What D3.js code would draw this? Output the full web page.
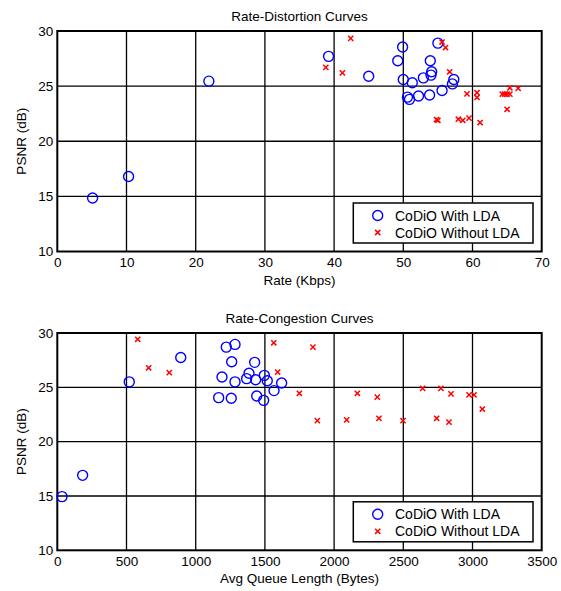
<!DOCTYPE html>
<html><head><meta charset="utf-8">
<script src="https://cdn.jsdelivr.net/npm/d3@7"></script>
<style>
html,body{margin:0;padding:0;background:#fff;}
text{font-family:"Liberation Sans",Arial,Helvetica,sans-serif;}
</style></head>
<body><svg id="c" width="561" height="591"></svg>
<script>
// ---- Data ----
const rdTitle = "Rate-Distortion Curves";
const rcTitle = "Rate-Congestion Curves";
const seriesNames = ["CoDiO With LDA", "CoDiO Without LDA"];

const rdXTicks = [0, 10, 20, 30, 40, 50, 60, 70];
const rcXTicks = [0, 500, 1000, 1500, 2000, 2500, 3000, 3500];
const yTicks = [10, 15, 20, 25, 30];

// Rate-Distortion: rate (Kbps) vs PSNR (dB)
const rdWithRate = [5.1, 10.3, 21.9, 39.2, 45.0, 49.9, 49.2, 50.0, 51.3, 50.6, 50.9, 52.2, 52.9, 53.8, 53.9, 54.1, 54.0, 55.0, 55.6, 57.3, 57.1];
const rdWithPsnr = [14.85, 16.8, 25.45, 27.7, 25.9, 28.55, 27.3, 25.6, 25.3, 24.0, 23.8, 24.1, 25.75, 24.2, 27.3, 26.3, 26.0, 28.9, 24.6, 25.6, 25.2];
const rdWithoutRate = [38.8, 41.2, 42.4, 54.8, 55.0, 55.6, 56.1, 56.7, 57.95, 58.6, 59.2, 59.5, 60.65, 60.65, 61.1, 64.3, 64.65, 65.0, 65.0, 65.4, 65.4, 66.6];
const rdWithoutPsnr = [26.7, 26.2, 29.33, 21.97, 21.9, 29.0, 28.5, 26.3, 22.0, 21.9, 24.3, 22.1, 24.4, 23.97, 21.7, 24.27, 24.27, 24.27, 22.9, 24.27, 24.85, 24.8];

// Rate-Congestion: avg queue length (Bytes) vs PSNR (dB)
const rcWithQueue = [34, 183, 520, 892, 1166, 1190, 1221, 1260, 1284, 1284, 1257, 1368, 1385, 1426, 1433, 1441, 1491, 1496, 1517, 1566, 1621];
const rcWithPsnr = [14.94, 16.9, 25.5, 27.75, 24.05, 25.95, 28.7, 27.35, 28.95, 25.5, 24.0, 25.8, 26.3, 27.3, 25.7, 24.2, 23.8, 26.1, 25.6, 24.7, 25.4];
const rcWithoutQueue = [581, 660, 809, 1564, 1592, 1749, 1847, 1879, 2091, 2168, 2312, 2324, 2498, 2640, 2741, 2772, 2830, 2845, 2975, 3011, 3071];
const rcWithoutPsnr = [29.42, 26.8, 26.35, 29.1, 26.4, 24.45, 28.7, 21.93, 22.0, 24.45, 24.1, 22.15, 21.93, 24.9, 22.15, 24.9, 21.8, 24.4, 24.3, 24.3, 23.0];

// ---- Drawing ----
const svg = d3.select("#c");
const FS = 13.5;

function panel(cfg) {
  const x = d3.scaleLinear().domain([cfg.xTicks[0], cfg.xTicks[cfg.xTicks.length-1]]).range([57.3, 541.7]);
  const y = d3.scaleLinear().domain([10, 30]).range([cfg.bottom, cfg.top]);
  const g = svg.append("g");

  // grid
  g.selectAll(".vg").data(cfg.xTicks.slice(1, -1)).enter().append("line")
    .attr("x1", d => x(d)).attr("x2", d => x(d)).attr("y1", cfg.top).attr("y2", cfg.bottom)
    .attr("stroke", "#000").attr("stroke-width", 1.3);
  g.selectAll(".hg").data(yTicks.slice(1, -1)).enter().append("line")
    .attr("x1", x.range()[0]).attr("x2", x.range()[1]).attr("y1", d => y(d)).attr("y2", d => y(d))
    .attr("stroke", "#000").attr("stroke-width", 1.3);

  // axes via d3 axis (labels), domain hidden
  const xa = g.append("g").attr("transform", `translate(0,${cfg.bottom})`)
    .call(d3.axisBottom(x).tickValues(cfg.xTicks).tickSize(0).tickPadding(6).tickFormat(d3.format("d")));
  const ya = g.append("g").attr("transform", `translate(57.3,0)`)
    .call(d3.axisLeft(y).tickValues(yTicks).tickSize(0).tickPadding(4).tickFormat(d3.format("d")));
  [xa, ya].forEach(a => {
    a.select(".domain").remove();
    a.selectAll("text").attr("font-size", FS).attr("fill", "#000")
      .style("font-family", '"Liberation Sans",Arial,sans-serif');
  });

  // box
  g.append("rect").attr("x", x.range()[0]).attr("y", cfg.top)
    .attr("width", x.range()[1] - x.range()[0]).attr("height", cfg.bottom - cfg.top)
    .attr("fill", "none").attr("stroke", "#000").attr("stroke-width", 2);

  // title and labels
  g.append("text").attr("x", (x.range()[0] + x.range()[1]) / 2).attr("y", cfg.top - 10)
    .attr("text-anchor", "middle").attr("font-size", FS).text(cfg.title);
  g.append("text").attr("x", (x.range()[0] + x.range()[1]) / 2).attr("y", cfg.bottom + 33)
    .attr("text-anchor", "middle").attr("font-size", FS).text(cfg.xLabel);
  g.append("text").attr("transform", `translate(26,${(cfg.top + cfg.bottom) / 2}) rotate(-90)`)
    .attr("text-anchor", "middle").attr("font-size", FS).text("PSNR (dB)");

  // points
  const withPts = cfg.withX.map((v, i) => [v, cfg.withY[i]]);
  const withoutPts = cfg.withoutX.map((v, i) => [v, cfg.withoutY[i]]);
  g.selectAll(".cw").data(withPts).enter().append("circle")
    .attr("cx", d => x(d[0])).attr("cy", d => y(d[1])).attr("r", 5)
    .attr("fill", "none").attr("stroke", "#0000ff").attr("stroke-width", 1.4);
  const cs = 2.6;
  const crossPath = (cx, cy) => `M${cx-cs},${cy-cs}L${cx+cs},${cy+cs}M${cx-cs},${cy+cs}L${cx+cs},${cy-cs}`;
  g.selectAll(".xw").data(withoutPts).enter().append("path")
    .attr("d", d => crossPath(x(d[0]), y(d[1])))
    .attr("fill", "none").attr("stroke", "#ff0000").attr("stroke-width", 1.5);

  // legend
  const lx0 = 353.3, lx1 = 533, ly0 = cfg.bottom - 48.5, ly1 = cfg.bottom - 8.5;
  g.append("rect").attr("x", lx0).attr("y", ly0).attr("width", lx1 - lx0).attr("height", ly1 - ly0)
    .attr("fill", "#fff").attr("stroke", "#000").attr("stroke-width", 1.5);
  const r1 = ly0 + 12.5, r2 = ly0 + 29.5;
  g.append("circle").attr("cx", 377.7).attr("cy", r1).attr("r", 5)
    .attr("fill", "none").attr("stroke", "#0000ff").attr("stroke-width", 1.4);
  g.append("path").attr("d", crossPath(377.7, r2))
    .attr("fill", "none").attr("stroke", "#ff0000").attr("stroke-width", 1.5);
  g.append("text").attr("x", 395).attr("y", r1 + 5).attr("font-size", FS + 0.5).text(seriesNames[0]);
  g.append("text").attr("x", 395).attr("y", r2 + 5).attr("font-size", FS + 0.5).text(seriesNames[1]);
}

panel({ title: rdTitle, xLabel: "Rate (Kbps)", xTicks: rdXTicks, top: 31, bottom: 251.5,
  withX: rdWithRate, withY: rdWithPsnr, withoutX: rdWithoutRate, withoutY: rdWithoutPsnr });
panel({ title: rcTitle, xLabel: "Avg Queue Length (Bytes)", xTicks: rcXTicks, top: 333, bottom: 550.3,
  withX: rcWithQueue, withY: rcWithPsnr, withoutX: rcWithoutQueue, withoutY: rcWithoutPsnr });
</script></body></html>
